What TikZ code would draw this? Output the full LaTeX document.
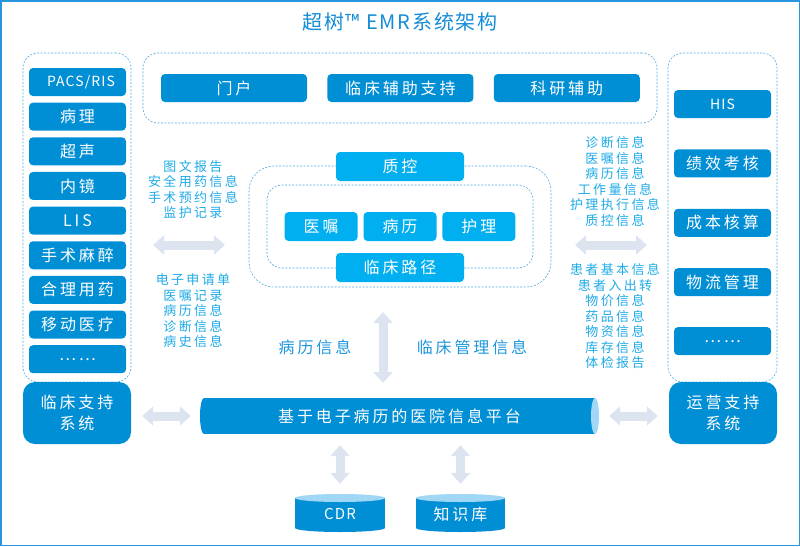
\documentclass[tikz,border=0pt]{standalone}
\usepackage{fontspec}
\setmainfont{Noto Sans CJK SC}
\newfontfamily\cnfont[LetterSpace=18]{Noto Sans CJK SC}
\newfontfamily\latinfont[LetterSpace=8]{Noto Sans CJK SC}
\newfontfamily\titlefont[LetterSpace=9]{Noto Sans CJK SC}
\usetikzlibrary{arrows.meta,positioning,calc}
\definecolor{boxblue}{RGB}{0,142,213}
\definecolor{cyanbox}{RGB}{0,175,240}
\definecolor{capblue}{RGB}{160,215,245}
\definecolor{arrowgray}{RGB}{220,228,240}
\definecolor{titleblue}{RGB}{20,140,215}
\definecolor{midblue}{RGB}{30,150,220}
\definecolor{listblue}{RGB}{30,170,230}
\definecolor{dashblue}{RGB}{80,170,228}
\definecolor{frameblue}{RGB}{40,150,220}

\begin{document}
\begin{tikzpicture}[x=1pt,y=-1pt,
      cn/.style={font=\cnfont\fontsize{16}{21}\selectfont},
      latin/.style={font=\latinfont\fontsize{14}{18}\selectfont},
      item/.style={cn,fill=boxblue,text=white,rounded corners=4pt,
                   minimum width=97pt,minimum height=28pt,inner sep=0pt},
      core/.style={item,fill=cyanbox,minimum height=29pt},
      group/.style={draw=dashblue,dash pattern=on 2pt off 1.5pt,line width=0.6pt,
                    rounded corners=15pt,inner sep=0pt},
      sysbox/.style={item,rounded corners=12pt,minimum width=108pt,
                     minimum height=62pt,align=center},
      info/.style={font=\cnfont\fontsize{13}{15.5}\selectfont,text=listblue,
                   align=center,inner sep=0pt},
      flow/.style={font=\cnfont\fontsize{16}{20}\selectfont,text=midblue,inner sep=0pt},
      fat/.style={arrowgray,line width=9pt,
                  {Triangle[length=11pt,width=19pt]}-{Triangle[length=11pt,width=19pt]}},
    ]
    \useasboundingbox (0,0) rectangle (800,546);
    \draw[frameblue,line width=1.5pt] (0.75,0.75) rectangle (799.25,545.25);

    \node[font=\titlefont\fontsize{20}{24}\selectfont,text=titleblue] (title) at (400,22)
      {超树™\hspace{6pt}EMR系统架构};

    % dashed groups
    \node[group,minimum width=108pt,minimum height=329pt] (leftgroup) at (77,217.5) {};
    \node[group,minimum width=109pt,minimum height=329pt] (rightgroup) at (722.5,217.5) {};
    \node[group,minimum width=514pt,minimum height=70pt] (topgroup) at (400,88) {};
    \node[group,rounded corners=25pt,minimum width=302pt,minimum height=121pt] (coreouter) at (400,226.5) {};
    \node[group,minimum width=266pt,minimum height=83pt] (coreinner) at (400,226.5) {};

    % top applications
    \node[item,minimum width=146pt] (portal) at (234,88) {门户};
    \node[item,minimum width=146pt,right=20pt of portal] (clinaid) {临床辅助支持};
    \node[item,minimum width=146pt,right=20pt of clinaid] (research) {科研辅助};

    % clinical support systems
    \node[item,latin] (pacs) at (77.5,82) {\hspace{7pt}PACS/RIS};
    \node[item,below=6.25pt of pacs] (patho) {病理};
    \node[item,below=6.25pt of patho] (ultra) {超声};
    \node[item,below=6.25pt of ultra] (endo) {内镜};
    \node[item,below=6.25pt of endo] (lis) {LIS};
    \node[item,below=6.25pt of lis] (anesth) {手术麻醉};
    \node[item,below=6.25pt of anesth] (rdrug) {合理用药};
    \node[item,below=6.25pt of rdrug] (mobile) {移动医疗};
    \node[item,below=6.25pt of mobile] (lmore) {……};

    % operation support systems
    \node[item,latin] (his) at (722.5,104) {HIS};
    \node[item,below=31pt of his] (perf) {绩效考核};
    \node[item,below=31pt of perf] (cost) {成本核算};
    \node[item,below=31pt of cost] (logis) {物流管理};
    \node[item,below=30.5pt of logis] (rmore) {……};

    % EMR core
    \node[core,minimum width=128pt] (qc) at (400,166.5) {质控};
    \node[core,minimum width=73pt] (record) at (400,226.5) {病历};
    \node[core,minimum width=73pt,left=5.5pt of record] (order) {医嘱};
    \node[core,minimum width=73pt,right=5.5pt of record] (nursing) {护理};
    \node[core,minimum width=128pt] (path) at (400,267.5) {临床路径};

    % platform
    \fill[boxblue] (204,398) rectangle (595,434);
    \fill[boxblue] (204,416) ellipse [x radius=4,y radius=18];
    \fill[capblue] (595,416) ellipse [x radius=4,y radius=18];
    \node[cn,text=white,minimum width=399pt,minimum height=36pt,inner sep=0pt] (platform)
      at (399.5,416) {基于电子病历的医院信息平台};

    \node[sysbox] (clinsys) at (77,413) {临床支持\\系统};
    \node[sysbox] (opsys) at (723,413) {运营支持\\系统};

    % data stores
    \fill[boxblue] (295,498) rectangle (385,528);
    \fill[boxblue] (340,528) ellipse [x radius=45,y radius=4];
    \fill[capblue] (340,498) ellipse [x radius=45,y radius=4];
    \node[latin,font=\latinfont\fontsize{15}{18}\selectfont,text=white,minimum width=90pt,
          minimum height=38pt,inner sep=0pt] (cdr) at (340,514) {CDR};
    \fill[boxblue] (416,498) rectangle (505,528);
    \fill[boxblue] (460.5,528) ellipse [x radius=44.5,y radius=4];
    \fill[capblue] (460.5,498) ellipse [x radius=44.5,y radius=4];
    \node[cn,text=white,minimum width=89pt,minimum height=38pt,inner sep=0pt] (kb)
      at (460.5,514) {知识库};

    % exchanged information
    \node[info] (leftup) at (193,189.5) {图文报告\\安全用药信息\\手术预约信息\\监护记录};
    \node[info] (leftdown) at (193,311) {电子申请单\\医嘱记录\\病历信息\\诊断信息\\病史信息};
    \node[info] (rightup) at (615,181.5) {诊断信息\\医嘱信息\\病历信息\\工作量信息\\护理执行信息\\质控信息};
    \node[info] (rightdown) at (615,316.5) {患者基本信息\\患者入出转\\物价信息\\药品信息\\物资信息\\库存信息\\体检报告};
    \node[flow] (recinfo) at (315,347) {病历信息};
    \node[flow] (mgmtinfo) at (472,347) {临床管理信息};

    \coordinate (lefta) at (153,245);
    \coordinate (leftb) at (225,245);
    \coordinate (righta) at (575,245);
    \coordinate (rightb) at (647,245);
    \coordinate (coretop) at (383,312);
    \coordinate (corebot) at (383,383);

    \draw[fat] (lefta) -- (leftb);
    \draw[fat] (righta) -- (rightb);
    \draw[fat] (coretop) -- (corebot);
    \draw[fat,shorten <=11pt,shorten >=9pt] (clinsys.east |- platform.west) -- (platform.west);
    \draw[fat,shorten <=10pt,shorten >=11pt] (platform.east) -- (opsys.west |- platform.east);
    \draw[fat,shorten <=11pt,shorten >=10pt] (cdr.north |- platform.south) -- ($(cdr.north)+(0,-1)$);
    \draw[fat,shorten <=11pt,shorten >=10pt] (kb.north |- platform.south) -- ($(kb.north)+(0,-1)$);
  \end{tikzpicture}
\end{document}
